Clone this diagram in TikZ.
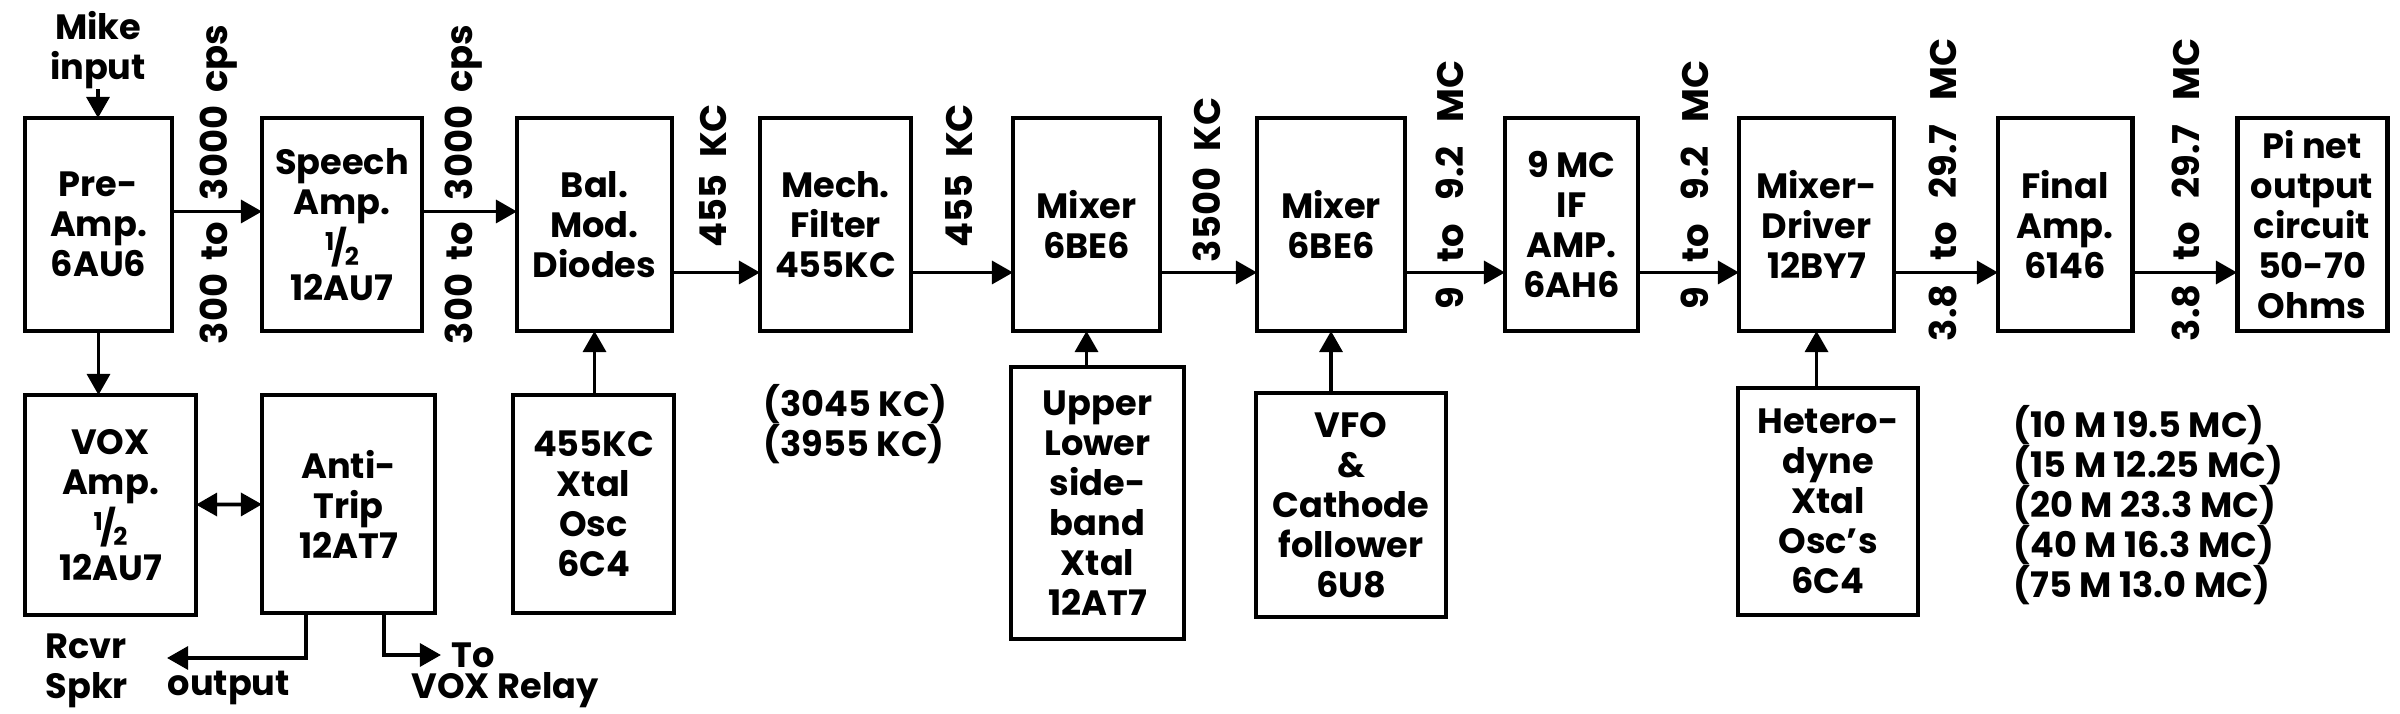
\documentclass[tikz,border=0pt]{standalone}
\usepackage{fontspec}
\setmainfont{Poppins}
\usetikzlibrary{positioning}
\usetikzlibrary{arrows.meta}

\newcommand{\halfsym}{\raisebox{.5ex}{\fontsize{7}{7}\selectfont 1}\kern-.08em/\kern-.08em\raisebox{-.25ex}{\fontsize{7}{7}\selectfont 2}}

\begin{document}
\begin{tikzpicture}[node distance=1cm,>={Triangle[length=6pt,width=6.5pt]},
  blk/.style={rectangle,draw,line width=1.4pt,outer sep=0pt,inner sep=0pt,align=center,minimum height=2.13cm,font=\bfseries\fontsize{10}{11.4}\selectfont},
  freq/.style={rotate=90,anchor=west,inner sep=0pt,font=\bfseries\fontsize{10.5}{12}\selectfont,execute at begin node={\spaceskip=#1\relax}},
  freq/.default=.45em,
  note/.style={align=left,inner sep=0pt,font=\bfseries\fontsize{10}{11.4}\selectfont},
  sig/.style={->,line width=1.1pt}]
\useasboundingbox (0,0) rectangle (24,-7.14);
% main chain
\node[blk,minimum width=1.47cm] (pre) at (0.985,-2.245) {Pre-\\Amp.\\6AU6};
\node[blk,minimum width=1.60cm,right=0.90cm of pre] (speech) {Speech\\Amp.\\\halfsym\\12AU7};
\node[blk,minimum width=1.55cm,right=0.95cm of speech] (balmod) {Bal.\\Mod.\\Diodes};
\node[blk,minimum width=1.51cm,right=0.88cm of balmod] (mech) {Mech.\\Filter\\455KC};
\node[blk,minimum width=1.47cm,right=1.02cm of mech] (mixa) {Mixer\\6BE6};
\node[blk,minimum width=1.48cm,right=0.97cm of mixa] (mixb) {Mixer\\6BE6};
\node[blk,minimum width=1.33cm,right=1.00cm of mixb] (ifamp) {9 MC\\IF\\AMP.\\6AH6};
\node[blk,minimum width=1.55cm,right=1.01cm of ifamp] (mixdrv) {Mixer-\\Driver\\12BY7};
\node[blk,minimum width=1.34cm,right=1.04cm of mixdrv] (final) {Final\\Amp.\\6146};
\node[blk,minimum width=1.50cm,right=1.05cm of final] (pinet) {Pi net\\output\\circuit\\50-70\\Ohms};
\draw[sig] ([yshift=0.13cm]pre.east) -- ([yshift=0.13cm]speech.west);
\draw[sig] ([yshift=0.13cm]speech.east) -- ([yshift=0.13cm]balmod.west);
\draw[sig] ([yshift=-0.48cm]balmod.east) -- ([yshift=-0.48cm]mech.west);
\draw[sig] ([yshift=-0.48cm]mech.east) -- ([yshift=-0.48cm]mixa.west);
\draw[sig] ([yshift=-0.48cm]mixa.east) -- ([yshift=-0.48cm]mixb.west);
\draw[sig] ([yshift=-0.48cm]mixb.east) -- ([yshift=-0.48cm]ifamp.west);
\draw[sig] ([yshift=-0.48cm]ifamp.east) -- ([yshift=-0.48cm]mixdrv.west);
\draw[sig] ([yshift=-0.48cm]mixdrv.east) -- ([yshift=-0.48cm]final.west);
\draw[sig] ([yshift=-0.48cm]final.east) -- ([yshift=-0.48cm]pinet.west);
% frequencies
\node[freq=.35em] (fa) at (2.19,-3.45) {300 to\hspace{.6em}3000 cps};
\node[freq=.35em] (fb) at (4.64,-3.45) {300 to\hspace{.6em}3000 cps};
\node[freq] (fc) at (7.13,-2.48) {455 KC};
\node[freq] (fd) at (9.59,-2.48) {455 KC};
\node[freq] (fe) at (12.07,-2.63) {3500 KC};
\node[freq=.65em] (ff) at (14.50,-3.10) {9 to 9.2 MC};
\node[freq=.65em] (fg) at (16.95,-3.10) {9 to 9.2 MC};
\node[freq=.65em] (fh) at (19.43,-3.42) {3.8 to 29.7 MC};
\node[freq=.65em] (fi) at (21.86,-3.42) {3.8 to 29.7 MC};
% input
\node[note,align=center] (mike) at (0.98,-0.50) {Mike\\input};
\draw[sig] (mike.south) -- (mike.south |- pre.north);
% lower row
\node[blk,minimum width=1.71cm,minimum height=2.20cm,anchor=north west] (vox) at (0.25,-3.95) {VOX\\Amp.\\\halfsym\\12AU7};
\node[blk,minimum width=1.73cm,minimum height=2.18cm,anchor=north west] (antitrip) at (2.62,-3.95) {Anti-\\Trip\\12AT7};
\node[blk,minimum width=1.61cm,minimum height=2.18cm,anchor=north west] (xtal) at (5.13,-3.95) {455KC\\Xtal\\Osc\\6C4};
\node[blk,minimum width=1.73cm,minimum height=2.72cm,anchor=north west] (sideband) at (10.11,-3.67) {Upper\\Lower\\side-\\band\\Xtal\\12AT7};
\node[blk,minimum width=1.90cm,minimum height=2.24cm,anchor=north west] (vfo) at (12.56,-3.93) {VFO\\\&\\Cathode\\follower\\6U8};
\node[blk,minimum width=1.80cm,minimum height=2.27cm,anchor=north west] (hetosc) at (17.38,-3.88) {Hetero-\\dyne\\Xtal\\Osc's\\6C4};
\draw[sig] (pre.south) -- (pre.south |- vox.north);
\draw[<->,line width=1.1pt] (vox) -- (antitrip);
\draw[sig] (balmod.south |- xtal.north) -- (balmod.south);
\draw[sig] (mixa.south |- sideband.north) -- (mixa.south);
\draw[sig] (mixb.south |- vfo.north) -- (mixb.south);
\draw[sig] (mixdrv.south |- hetosc.north) -- (mixdrv.south);
% outputs
\node[note,anchor=west] (rcvr) at (0.45,-6.71) {Rcvr\\Spkr};
\node[note,anchor=west] (output) at (1.67,-6.88) {output};
\node[note,anchor=west] (to) at (4.51,-6.55) {To};
\node[note,anchor=west] (relay) at (4.11,-6.90) {VOX Relay};
\coordinate (spkr) at (1.67,-6.58);
\draw[sig] ([xshift=-0.425cm]antitrip.south) |- (spkr);
\draw[sig] ([xshift=0.355cm]antitrip.south) |- ([xshift=-0.1cm]to.west);
% notes
\node[note,anchor=west] (sbfreq) at (7.63,-4.24) {(3045 KC)\\(3955 KC)};
\node[note,anchor=west] (bands) at (20.13,-5.05) {(10 M 19.5 MC)\\(15 M 12.25 MC)\\(20 M 23.3 MC)\\(40 M 16.3 MC)\\(75 M 13.0 MC)};
\end{tikzpicture}
\end{document}
